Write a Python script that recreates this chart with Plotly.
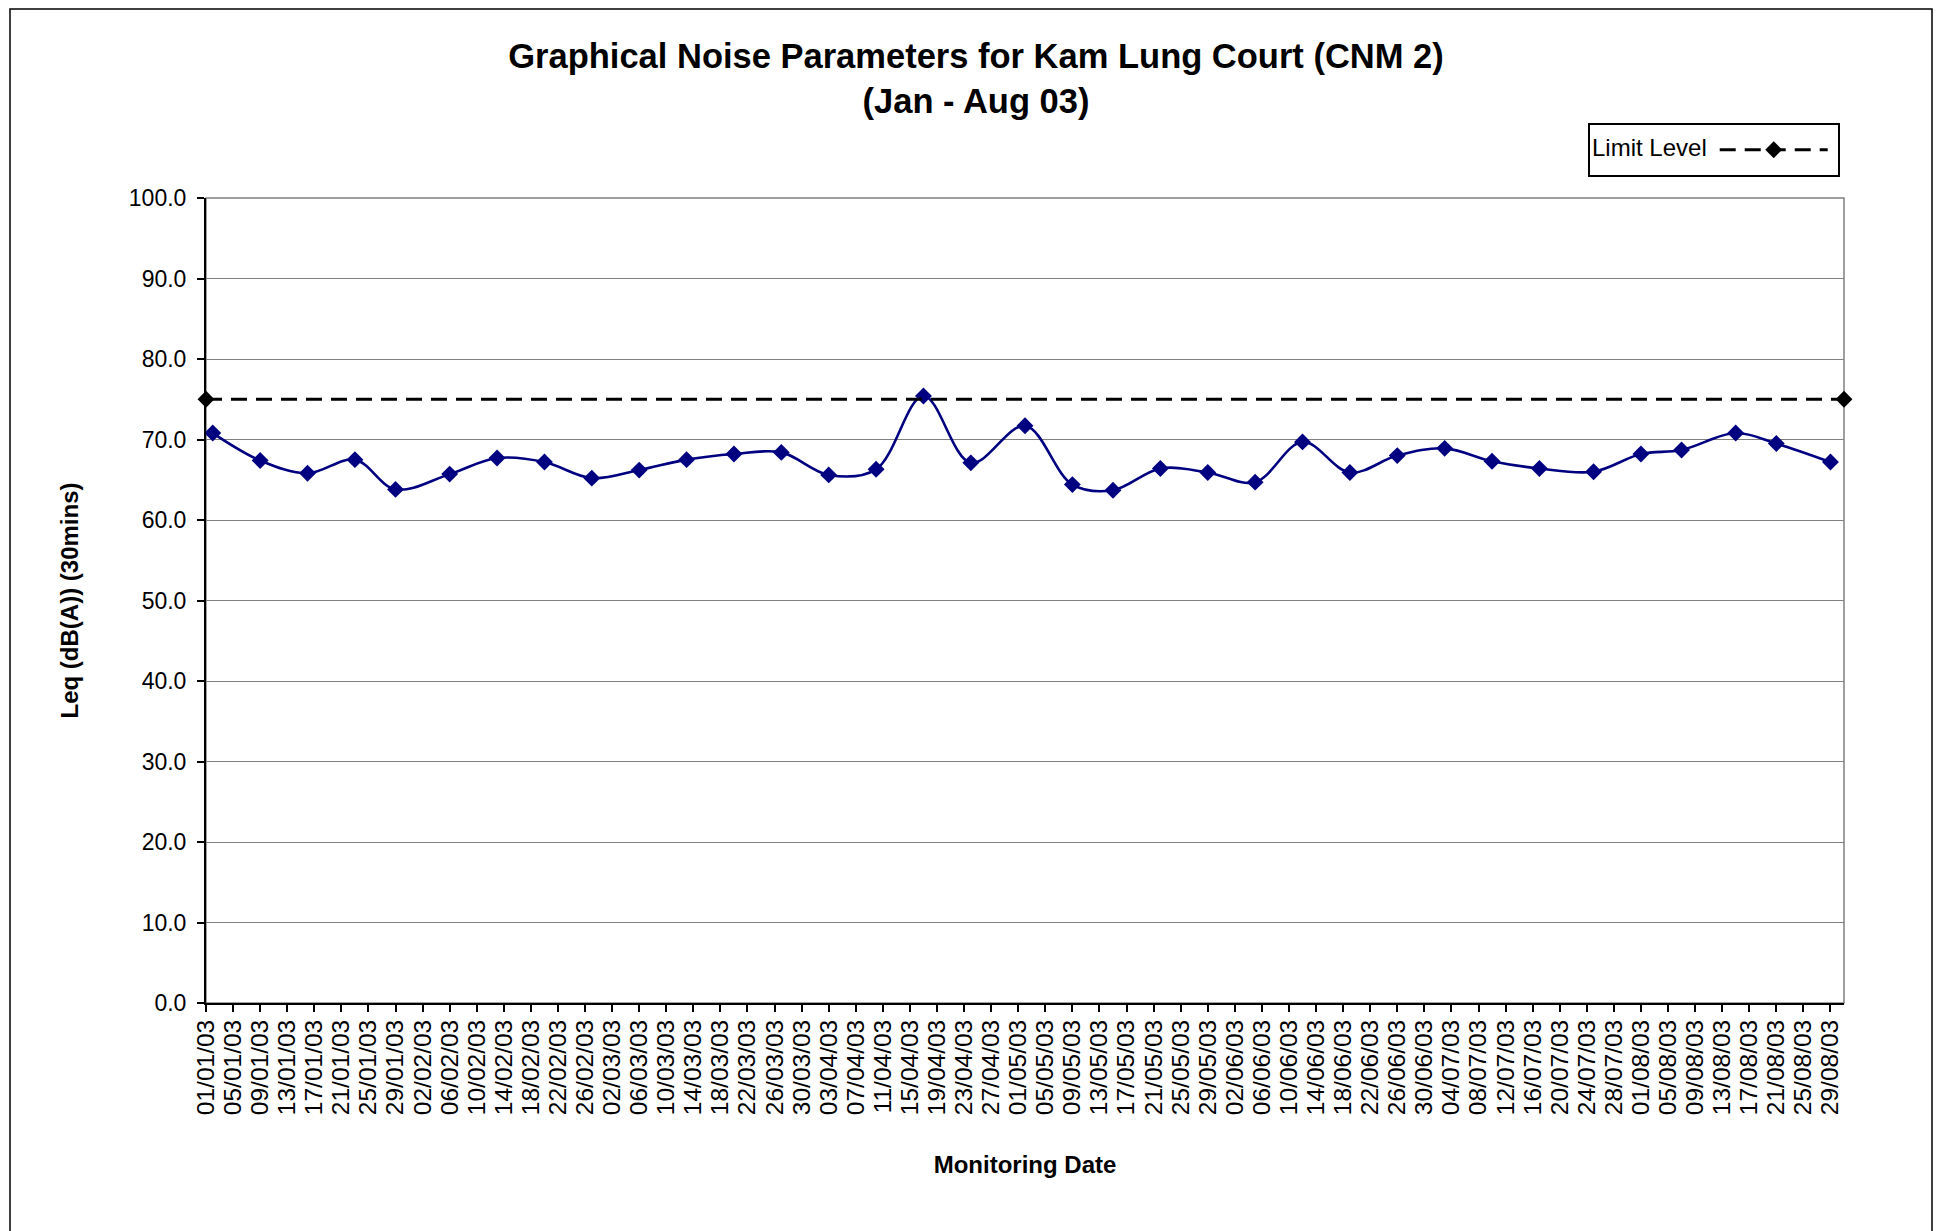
import plotly.graph_objects as go

# ---- data ----
dates = ["2003-01-02", "2003-01-09", "2003-01-16", "2003-01-23", "2003-01-29",
         "2003-02-06", "2003-02-13", "2003-02-20", "2003-02-27",
         "2003-03-06", "2003-03-13", "2003-03-20", "2003-03-27",
         "2003-04-03", "2003-04-10", "2003-04-17", "2003-04-24",
         "2003-05-02", "2003-05-09", "2003-05-15", "2003-05-22", "2003-05-29",
         "2003-06-05", "2003-06-12", "2003-06-19", "2003-06-26",
         "2003-07-03", "2003-07-10", "2003-07-17", "2003-07-25",
         "2003-08-01", "2003-08-07", "2003-08-15", "2003-08-21", "2003-08-29"]
leq = [70.8, 67.4, 65.8, 67.5, 63.8,
       65.7, 67.7, 67.2, 65.2,
       66.2, 67.5, 68.2, 68.4,
       65.6, 66.3, 75.4, 67.1,
       71.7, 64.4, 63.7, 66.4, 65.9,
       64.7, 69.7, 65.9, 68.0,
       68.9, 67.3, 66.4, 66.0,
       68.2, 68.7, 70.8, 69.5, 67.2]

limit_dates = ["2003-01-01", "2003-08-31"]
limit_values = [75, 75]

y_ticks = [0, 10, 20, 30, 40, 50, 60, 70, 80, 90, 100]

title_lines = ["Graphical Noise Parameters for Kam Lung Court (CNM 2)", "(Jan - Aug 03)"]
x_title = "Monitoring Date"
y_title = "Leq (dB(A)) (30mins)"
legend_label = "Limit Level"

FONT = "Liberation Sans, Arial, sans-serif"
W, H = 1942, 1231
OFF = 8  # page body margin
# plot area in page pixels: left 206, right 1844, top 198, bottom 1003
L, T = 206 - OFF, 198 - OFF
PW, PH = 1844 - 206, 1003 - 198
R, B = W - L - PW, H - T - PH


def px_x(px):
    return (px - OFF - L) / PW


def px_y(py):
    return (T + PH - (py - OFF)) / PH


fig = go.Figure()

fig.add_trace(go.Scatter(
    x=dates, y=leq, mode="lines+markers", name="Leq",
    line=dict(color="#000080", width=2.6, shape="spline", smoothing=1.0),
    marker=dict(symbol="diamond", size=13, color="#000080"),
    showlegend=False, cliponaxis=False,
))

fig.add_trace(go.Scatter(
    x=limit_dates, y=limit_values, mode="lines+markers", name="",
    line=dict(color="black", width=3, dash="16px,9px"),
    marker=dict(symbol="diamond", size=13, color="black"),
    showlegend=True, cliponaxis=False,
))

# outer chart border
fig.add_shape(type="rect", xref="paper", yref="paper",
              x0=px_x(10), x1=px_x(1932), y0=px_y(1245), y1=px_y(9),
              line=dict(color="black", width=1.5), fillcolor="rgba(0,0,0,0)",
              layer="below")
# plot area border (grey)
fig.add_shape(type="rect", xref="paper", yref="paper",
              x0=0, x1=1, y0=0, y1=1,
              line=dict(color="#808080", width=1.5), fillcolor="rgba(0,0,0,0)",
              layer="below")

fig.update_layout(
    width=W, height=H,
    margin=dict(l=L, r=R, t=T, b=B, autoexpand=False),
    paper_bgcolor="white", plot_bgcolor="white",
    font=dict(family=FONT, size=23, color="black"),
    title=dict(text="<br>".join("<b>" + s + "</b>" for s in title_lines),
               font=dict(family=FONT, size=34.5, color="black"),
               x=px_x(976), xref="paper", xanchor="center",
               y=1 - (68 - OFF) / H, yref="container", yanchor="top"),
    legend=dict(
        x=px_x(1588), y=px_y(123), xanchor="left", yanchor="top",
        bgcolor="white", bordercolor="black", borderwidth=2,
        font=dict(family=FONT, size=28, color="black"),
        title=dict(text=legend_label, side="left",
                   font=dict(family=FONT, size=24, color="black")),
        itemwidth=108,
    ),
    showlegend=True,
)

fig.update_xaxes(
    type="date", range=["2003-01-01", "2003-08-31"],
    tick0="2003-01-01", dtick=4 * 86400000, tickformat="%d/%m/%y",
    tickangle=-90, ticks="outside", ticklen=7, tickwidth=1.5, tickcolor="black",
    showline=True, linecolor="black", linewidth=2,
    showgrid=False, zeroline=False,
    tickfont=dict(family=FONT, size=24.5, color="black"),
    ticklabelstandoff=-2,
    title=dict(text="<b>" + x_title + "</b>", standoff=42,
               font=dict(family=FONT, size=24, color="black")),
    automargin=False,
)

fig.update_yaxes(
    range=[0, 100], tickvals=y_ticks, tickformat=".1f",
    ticks="outside", ticklen=7, tickwidth=1.5, tickcolor="black",
    showline=True, linecolor="black", linewidth=2,
    showgrid=True, gridcolor="#808080", gridwidth=1.3,
    zeroline=False,
    tickfont=dict(family=FONT, size=23, color="black"),
    ticklabelstandoff=6,
    title=dict(text="<b>" + y_title + "</b>", standoff=43,
               font=dict(family=FONT, size=24, color="black")),
    automargin=False,
)

fig.write_html("out.html")
